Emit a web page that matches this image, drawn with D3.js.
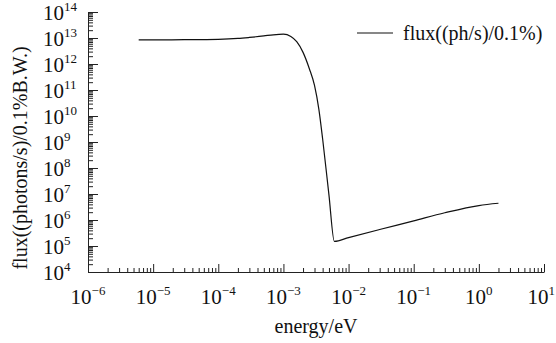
<!DOCTYPE html>
<html><head><meta charset="utf-8">
<script src="https://cdn.jsdelivr.net/npm/d3@7"></script>
<style>body{margin:0;background:#fff}svg{display:block}text{font-family:"Liberation Serif","Times New Roman",serif;fill:#111}</style>
</head><body><svg id="c" width="556" height="343"></svg>
<script>
const energy = [6e-6, 1e-5, 3e-5, 1e-4, 2e-4, 3e-4, 5e-4, 7e-4, 1e-3, 1.3e-3, 1.6e-3, 2e-3, 2.5e-3, 3e-3, 3.5e-3, 4e-3, 5e-3, 6.05e-3, 1e-2, 3e-2, 1e-1, 3e-1, 1, 2];
const flux = [8.5e12, 8.5e12, 8.6e12, 8.9e12, 9.6e12, 1.05e13, 1.2e13, 1.33e13, 1.4e13, 1.15e13, 7.2e12, 2.8e12, 6.6e11, 1.5e11, 1.8e10, 1.3e9, 9e6, 1.5e5, 2.1e5, 4.3e5, 9.3e5, 1.9e6, 3.6e6, 4.4e6];
const xTickExp = [-6, -5, -4, -3, -2, -1, 0, 1];
const yTickExp = [4, 5, 6, 7, 8, 9, 10, 11, 12, 13, 14];
const seriesName = "flux((ph/s)/0.1%)";
const xLabel = "energy/eV";
const yLabel = "flux((photons/s)/0.1%B.W.)";

const svg = d3.select("#c");
const x = d3.scaleLog().domain([1e-6, 10]).range([88, 544]);
const y = d3.scaleLog().domain([1e4, 1e14]).range([272, 12]);

function minors(exps){
  const out=[];
  for(let i=0;i<exps.length-1;i++) for(let k=2;k<=9;k++) out.push(k*Math.pow(10,exps[i]));
  return out;
}
const stroke="#222";
// x axis
const gx = svg.append("g").attr("transform","translate(0,272)");
gx.call(d3.axisBottom(x).tickValues(xTickExp.map(e=>Math.pow(10,e))).tickSize(-8).tickSizeOuter(0).tickFormat(""));
gx.append("g").call(d3.axisBottom(x).tickValues(minors(xTickExp)).tickSize(-4).tickSizeOuter(0).tickFormat("")).select(".domain").remove();
// y axis
const gy = svg.append("g").attr("transform","translate(88,0)");
gy.call(d3.axisLeft(y).tickValues(yTickExp.map(e=>Math.pow(10,e))).tickSize(-10).tickSizeOuter(0).tickFormat(""));
gy.append("g").call(d3.axisLeft(y).tickValues(minors(yTickExp)).tickSize(-5).tickSizeOuter(0).tickFormat("")).select(".domain").remove();
svg.selectAll(".domain,.tick line").attr("stroke",stroke).attr("stroke-width",1);

// tick labels
xTickExp.forEach(e=>{
  const t = svg.append("text").attr("x",x(Math.pow(10,e))).attr("y",304).attr("text-anchor","middle").style("font-size","21px");
  t.append("tspan").text("10");
  t.append("tspan").attr("dy",-9).style("font-size","13px").text(e<0?"\u2212"+(-e):String(e));
  const b = t.node().getBBox();
  if (b.x + b.width > 555) t.attr("x", +t.attr("x") - (b.x + b.width - 555));
});
yTickExp.forEach(e=>{
  const t = svg.append("text").attr("x",43).attr("y",y(Math.pow(10,e))+8).attr("text-anchor","start").style("font-size","21px");
  t.append("tspan").text("10");
  t.append("tspan").attr("dy",-9).style("font-size","13px").text(String(e));
});

// axis titles
svg.append("text").attr("x",316).attr("y",333).attr("text-anchor","middle").style("font-size","20px").text(xLabel);
svg.append("text").attr("transform","translate(27,158) rotate(-90)").attr("text-anchor","middle").style("font-size","20px").text(yLabel);

// line
const line = d3.line().x((d,i)=>x(energy[i])).y(d=>y(d)).curve(d3.curveMonotoneX);
svg.append("path").datum(flux).attr("d",line).attr("fill","none").attr("stroke","#111").attr("stroke-width",1.2);

// legend
svg.append("line").attr("x1",357).attr("x2",393).attr("y1",33).attr("y2",33).attr("stroke","#111").attr("stroke-width",1.2);
svg.append("text").attr("x",403).attr("y",40).style("font-size","20px").text(seriesName);
</script></body></html>
